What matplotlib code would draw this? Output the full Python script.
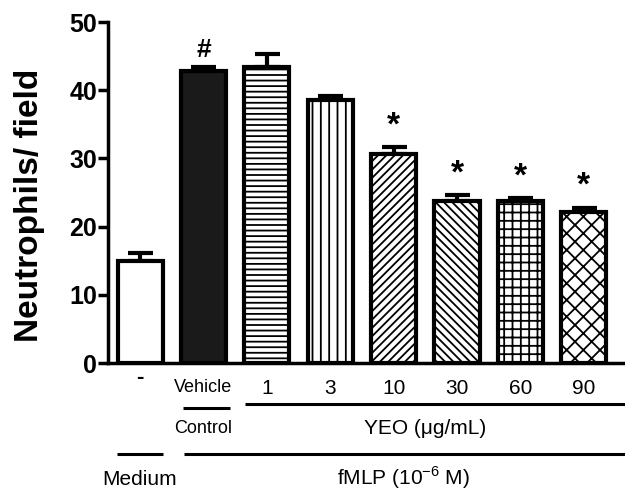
import numpy as np
import matplotlib
matplotlib.use("Agg")
import matplotlib.pyplot as plt
import matplotlib.transforms as mtransforms

plt.rcParams['font.family'] = 'Liberation Sans'
plt.rcParams['mathtext.fontset'] = 'custom'
plt.rcParams['mathtext.rm'] = 'Liberation Sans'
plt.rcParams['hatch.linewidth'] = 1.3

# data
labels = ['-', 'Vehicle', '1', '3', '10', '30', '60', '90']
means = [14.9, 42.8, 43.4, 38.5, 30.6, 23.7, 23.7, 22.1]
sems = [1.3, 0.6, 1.9, 0.6, 1.0, 0.9, 0.5, 0.7]
marks = ['', '#', '', '', '*', '*', '*', '*']
hatches = ['', '', '---', '||', '////', '\\\\\\\\', '++', 'xx']
fills = ['white', '#1a1a1a', 'white', 'white', 'white', 'white', 'white', 'white']

x = np.arange(len(labels))

fig = plt.figure(figsize=(6.25, 4.9), dpi=100)
ax = fig.add_axes([108/625, 1-363/490, 1-108/625, 341/490])

ax.errorbar(x, means, yerr=[np.zeros(len(x)), sems], fmt='none', ecolor='black',
            elinewidth=3, capsize=9, capthick=3, zorder=1)
for i in range(len(x)):
    ax.bar(x[i], means[i], width=0.71, color=fills[i], edgecolor='black',
           linewidth=3, hatch=hatches[i], zorder=2)
    if marks[i]:
        ax.text(x[i], means[i] + sems[i] + 0.8, marks[i], ha='center', va='bottom',
                fontsize=24 if marks[i] == '*' else 19, fontweight='bold')

ax.set_xlim(-0.505, 7.65)
ax.set_ylim(0, 50)
ax.set_yticks([0, 10, 20, 30, 40, 50])
ax.set_xticks([])
ax.spines['top'].set_visible(False)
ax.spines['right'].set_visible(False)
ax.spines['left'].set_linewidth(2.5)
ax.spines['bottom'].set_linewidth(2.5)
ax.tick_params(axis='y', width=2.5, length=7, pad=1, labelsize=18)
for t in ax.get_yticklabels():
    t.set_fontweight('bold')

fig.text(30/625, 1-205/490, 'Neutrophils/ field', rotation=90, ha='center', va='center',
         fontsize=24, fontweight='bold')

# category labels and group brackets below the axis
tr = mtransforms.blended_transform_factory(ax.transData, fig.transFigure)
for i, lab in enumerate(labels):
    if lab == '-':
        ax.text(x[i], 1-377/490, lab, transform=tr, ha='center', va='center',
                fontsize=16, fontweight='bold')
    elif lab == 'Vehicle':
        ax.text(x[i], 1-388/490, lab, transform=tr, ha='center', va='center', fontsize=13)
    else:
        ax.text(x[i], 1-388/490, lab, transform=tr, ha='center', va='center', fontsize=15)

def hline(x0, x1, ypix):
    ax.plot([x0, x1], [1-ypix/490]*2, color='black', lw=2.2, transform=tr,
            clip_on=False, solid_capstyle='butt')

hline(1.66, 7.65, 404)
hline(0.68, 1.42, 408)
hline(-0.36, 0.36, 454)
hline(0.69, 7.65, 454)

ax.text(1.0, 1-428/490, 'Control', transform=tr, ha='center', va='center', fontsize=13)
ax.text(4.5, 1-428/490, 'YEO (\u03bcg/mL)', transform=tr, ha='center', va='center', fontsize=15)
ax.text(0.0, 1-485/490, 'Medium', transform=tr, ha='center', va='baseline', fontsize=15)
ax.text(4.15, 1-485/490, 'fMLP (10$^{-6}$ M)', transform=tr, ha='center', va='baseline',
        fontsize=15)

fig.savefig('out.png', dpi=100)
